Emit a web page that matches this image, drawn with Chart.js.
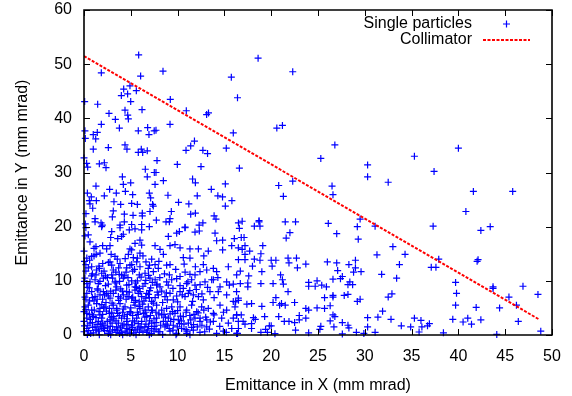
<!DOCTYPE html>
<html><head><meta charset="utf-8">
<script src="https://cdn.jsdelivr.net/npm/chart.js@4.4.1/dist/chart.umd.min.js"></script>
<style>html,body{margin:0;padding:0;background:#fff}#wrap{width:572px;height:396px}</style>
</head><body><div id="wrap"><canvas id="c" width="572" height="396"></canvas></div>
<script>
const xTicks = [0,5,10,15,20,25,30,35,40,45,50];
const yTicks = [0,10,20,30,40,50,60];
const seriesLabels = ['Single particles','Collimator'];
const collimatorX = [0, 48.6];
const collimatorY = [51.5, 2.9];

// upper region (y > 20)
const particlesHigh = [
[5.84,51.7],[1.85,48.4],[6.05,47.8],[8.44,48.7],[15.74,47.6],[4.24,45.4],[4.91,46.0],[5.59,45.1],[3.99,44.2],[4.66,44.5],[0.07,43.1],[1.46,42.6],[4.99,43.1],[9.22,43.5],[16.4,43.8],[2.67,40.9],[4.38,41.5],[6.2,41.6],[4.67,40.6],[10.93,41.4],[13.1,40.7],[13.3,41.0],[4.74,39.9],[3.35,39.8],[18.6,51.1],[22.3,48.6],
[1.85,38.9],[3.78,38.2],[9.19,38.9],[0.1,37.7],[0.14,36.3],[0.99,37.0],[1.25,36.2],[1.42,37.4],[5.8,37.7],[6.8,38.3],[6.94,37.0],[7.5,37.7],[7.69,37.8],[0.99,34.3],[2.6,34.6],[4.38,35.1],[4.59,34.3],[5.8,33.7],[6.12,34.3],[6.27,33.7],[6.76,34.0],[7.8,32.2],[0,32.7],[0.28,31.7],[0.39,31.0],[1.64,31.6],[2.17,31.8],[2.35,30.9],[6.55,30.6],[7.51,30.0],[7.69,30.0],[9.97,31.5],[10.9,34.1],[11.4,34.9],[11.8,35.8],[12.7,34.1],[13.2,33.5],[12.5,31.1],[15.2,34.5],[15.95,37.3],[16.6,30.8],
[4.1,29.2],[6.76,29.2],[8.48,28.5],[4.2,27.8],[4.99,28.1],[7.59,27.8],[11.6,28.8],[11.9,28.1],[15.1,27.9],[1.28,27.5],[2.74,26.9],[3.45,26.2],[4.42,26.5],[0.36,26.2],[0.78,25.5],[2.17,25.7],[5.2,25.9],[6.98,26.2],[8.97,25.8],[12.1,25.7],[13.6,26.9],[14.3,25.7],[14.8,25.5],[0.57,24.8],[1.32,24.8],[3.2,24.6],[3.92,24.1],[5.09,24.3],[5.7,24.1],[7.12,25.3],[7.33,24.1],[7.4,23.8],[10.1,24.5],[11.2,24.2],[15.8,24.8],[15.1,23.8],[0.64,24.2],[0.93,23.4],[3.13,22.9],[4.31,22.3],[5.24,22.1],[6.23,22.5],[6.23,22.0],[7.05,22.8],[9.33,22.8],[11.4,22.3],[11.9,22.5],[13.9,22.0],[14.1,21.4],[0.21,22.4],[0.14,20.5],[1.18,21.5],[1.18,20.9],[1.82,20.7],[1.96,20.3],[3.03,21.8],[3.85,20.3],[4.31,20.9],[5.09,20.4],[6.16,20.4],[7.73,21.2],[8.76,20.9],[9.19,21.5],[9.12,20.9],[12.3,20.3],[12.7,20.7],[16.5,20.7],
[20.6,38.2],[21.2,38.7],[26.8,35.1],[25.3,32.6],[30.3,31.4],[30.3,29.2],[32.5,28.2],[22.3,28.4],[20.8,27.6],[26.5,27.5],[21.3,25.6],[26.6,25.9],[16.9,21.0],[18.7,21.1],[18.7,20.9],[21.5,20.9],[22.6,20.9],[26.1,20.6],[29.5,21.4],[31.1,20.1],[18.2,20.1],[18.8,20.1],
[35.3,33.0],[40.0,34.5],[37.4,30.2],[41.6,26.5],[45.8,26.5],[40.8,22.8],[37.3,20.1],[43.4,20.0]
];

// right part (x > 16, y < 20)
const particlesRight = [
[42.4,19.3],[29.2,20.0],[10.8,19.9],[16.6,19.7],
[33.0,16.3],[34.3,14.9],[33.7,13.0],[37.9,14.0],[37.1,12.5],[37.6,12.5],[42.1,13.9],[42.0,13.6],[33.4,10.5],[39.7,9.7],[43.7,8.9],[43.7,8.6],[46.9,9.0],[48.5,7.5],[32.9,7.6],[39.8,7.7],[45.4,7.0],[46.2,5.5],[39.7,5.5],[44.4,5.0],[41.9,5.1],[32.8,2.9],[35.3,3.1],[36.0,2.7],[39.4,2.9],[41.0,3.1],[40.5,2.4],[41.4,2.0],[42.4,2.8],[46.4,2.5],[33.9,1.7],[34.9,1.5],[36.1,1.5],[36.7,1.7],[36.9,2.1],[35.8,0.55],[38.4,0.4],[44.1,0.1],[48.8,0.7],
[22.0,18.9],[21.6,17.9],[27.0,18.7],[29.3,17.7],[16.8,18.0],[17.1,18.0],[17.2,16.5],[19.1,16.5],[16.9,15.8],[17.7,15.5],[18.9,15.0],[17.2,14.9],[16.5,13.9],[17.2,13.9],[18.2,14.0],[18.8,13.8],[20.0,13.8],[20.5,13.8],[21.8,14.2],[21.9,13.3],[22.7,14.2],[20.1,12.7],[18.0,12.7],[22.8,12.4],[23.7,13.1],[26.0,13.5],[27.0,13.3],[28.3,13.0],[29.0,13.8],[29.0,12.4],[29.6,11.7],[31.3,14.8],[31.8,11.2],[27.1,11.9],[28.8,11.6],[19.0,11.7],[16.7,11.8],[17.6,10.9],[21.0,11.1],[21.2,10.2],[21.3,9.4],[16.7,9.5],[17.5,9.6],[17.5,8.9],[18.9,9.5],[20.2,9.5],[21.8,8.0],[24.0,9.7],[24.0,9.0],[24.7,9.0],[24.9,10.0],[25.4,9.2],[25.9,8.9],[26.6,10.3],[27.4,10.4],[27.6,10.8],[28.2,9.3],[28.4,9.8],[28.7,9.3],[16.3,8.0],[16.5,6.4],[16.2,6.1],[17.4,5.7],[17.9,5.8],[19.0,5.3],[20.5,6.9],[20.2,6.0],[20.9,5.5],[21.1,5.8],[21.5,5.5],[22.5,6.0],[25.7,6.9],[26.6,7.3],[26.6,7.0],[27.8,7.3],[28.2,7.5],[29.2,6.2],[29.5,6.6],[32.5,7.0],[23.7,4.9],[24.0,4.6],[24.9,5.0],[25.7,4.9],[26.3,5.4],[26.6,3.7],[26.8,3.4],[16.3,3.7],[16.8,3.7],[18.1,3.2],[18.3,2.9],[19.3,3.4],[20.8,3.4],[21.4,2.5],[21.9,2.5],[22.5,2.3],[23.0,2.8],[23.0,3.6],[23.7,3.1],[26.3,2.6],[27.6,2.3],[28.2,1.8],[28.3,1.3],[26.7,1.5],[25.3,1.6],[25.2,1.05],[17.0,2.5],[17.2,2.0],[17.9,2.1],[16.5,1.2],[17.9,1.2],[18.9,0.5],[19.4,1.05],[19.6,0.5],[19.8,1.7],[20.0,1.7],[20.4,0.25],[22.6,0.9],[24.0,0.4],[27.6,0.2],[29.1,0.5],[30.3,1.5],[30.3,3.2],[31.1,0.5],[31.4,3.3],[31.9,4.4],[16.4,0.3],[29.9,0.3]
];

// dense core (x < 17, y < 20)
const particlesCore = [
[0.05,13.6],[0.05,9.9],[0,4.3],[0.05,1.7],
[0.2,19.8],[0.46,18.5],[0.1,18.3],[1.89,20.0],[2.96,19.1],[3.85,19.8],[4.02,18.2],[4.84,19.4],[5.45,19.6],[6.16,19.4],[6.98,20.0],[9.01,18.2],[9.9,18.8],[10.19,19.1],[10.79,19.8],[11.86,19.0],[12.32,19.2],[14.0,18.8],[14.81,17.5],[16.06,17.8],
[0.64,17.2],[1.07,16.0],[1.28,16.3],[1.99,16.5],[2.78,16.5],[2.85,18.0],[3.6,17.8],[4.2,18.6],[4.91,15.9],[5.45,16.9],[5.98,17.5],[6.16,16.6],[7.59,16.5],[8.12,15.8],[9.19,16.5],[9.72,16.7],[10.26,16.1],[11.32,15.9],[12.22,15.9],[13.28,15.5],[14.17,17.4],[14.81,15.7],[15.78,16.5],[16.49,16.1],
[0,15.5],[0.3,14.2],[0.82,14.5],[1.07,14.6],[1.71,15.1],[2.42,15.9],[2.78,13.5],[3.31,14.5],[3.56,14.0],[4.74,14.9],[5.09,15.7],[5.27,14.3],[5.7,14.2],[5.98,15.1],[6.62,13.5],[7.23,14.0],[7.59,13.0],[8.48,14.9],[10.61,14.3],[11.32,14.2],[12.75,13.0],[13.82,12.3],[15.42,12.6],
[0.2,13.0],[0.46,12.4],[0.82,12.6],[1.35,12.0],[1.64,12.3],[1.89,11.4],[2.6,13.4],[2.96,12.9],[3.13,12.0],[3.85,13.2],[4.02,11.1],[4.56,12.4],[4.91,12.9],[5.63,13.5],[5.98,12.6],[6.52,11.4],[7.41,11.7],[7.94,12.3],[8.83,12.9],[9.19,13.0],[9.12,11.1],[10.26,10.8],[11.32,11.2],[11.86,11.1],[12.39,11.7],[13.11,12.0],[13.82,10.2],[14.17,11.7],[16.31,11.1],[15.53,9.2],
[0.1,10.5],[0.3,9.5],[0.64,9.8],[1.18,10.2],[1.53,9.5],[2.07,10.5],[2.6,9.4],[2.96,11.1],[3.31,9.8],[3.49,8.9],[4.2,10.5],[4.56,9.2],[5.09,10.0],[5.45,8.9],[5.91,8.6],[6.52,9.5],[7.05,10.5],[7.76,9.2],[8.12,8.9],[8.83,9.8],[9.37,10.2],[10.26,9.1],[10.61,8.6],[10.97,9.5],[11.5,10.2],[11.86,9.2],[12.93,9.8],[13.64,10.2],[14.53,8.9],[15.24,9.8],[15.95,9.4],
[0.3,7.7],[0.82,8.0],[1.18,7.1],[1.71,7.4],[2.07,8.0],[2.42,7.7],[2.78,6.8],[3.13,7.7],[3.67,7.1],[4.2,7.4],[4.56,8.0],[5.09,6.8],[5.45,8.3],[5.8,7.7],[6.16,7.1],[6.7,7.7],[7.23,6.2],[7.94,7.4],[8.65,7.1],[9.19,7.7],[9.54,6.5],[10.26,8.0],[10.79,7.1],[11.15,7.7],[11.68,7.4],[12.22,7.1],[12.75,6.5],[13.46,8.0],[14.35,8.0],[15.24,7.4],[15.95,6.2],[16.49,6.8],
[0.1,5.2],[0.46,5.5],[0.82,4.6],[1.35,5.8],[1.71,4.9],[2.24,5.2],[2.71,4.0],[3.13,5.5],[3.49,4.6],[3.85,5.8],[4.38,5.2],[4.91,4.3],[5.45,5.5],[5.98,4.9],[6.34,4.0],[6.87,5.2],[7.23,4.6],[7.76,5.5],[8.3,3.7],[8.83,4.9],[9.37,5.2],[9.72,4.0],[10.26,5.2],[10.97,4.6],[11.5,5.5],[12.04,4.3],[12.57,5.2],[13.28,4.9],[13.82,4.0],[14.53,5.5],[15.24,4.6],[16.13,5.2],[16.31,3.7],
[0,2.5],[0.3,3.1],[0.64,2.2],[1.0,3.4],[1.53,2.5],[1.89,3.1],[2.24,1.8],[2.78,2.8],[3.13,3.4],[3.67,2.2],[4.02,3.1],[4.56,2.5],[5.09,1.8],[5.63,3.1],[6.16,2.5],[6.7,3.4],[7.23,2.2],[7.76,3.1],[8.48,2.5],[9.01,3.1],[9.54,1.8],[10.08,2.8],[10.61,3.4],[11.15,2.2],[11.86,3.1],[12.39,2.5],[13.11,2.8],[13.82,2.5],[14.71,3.1],[15.42,2.2],[15.95,3.1],[16.49,2.5],
[0,0.6],[0.3,1.2],[0.71,0.3],[1.18,1.5],[1.53,0.7],[2.07,1.2],[2.6,0.3],[3.06,0.9],[3.49,1.5],[4.02,0.5],[4.56,1.2],[4.91,0.3],[5.45,0.9],[5.98,1.5],[6.7,0.5],[7.23,1.2],[7.94,0.6],[8.65,1.5],[9.19,0.7],[9.9,0.3],[10.43,1.2],[10.97,0.3],[11.68,0.9],[12.39,0.5],[13.11,1.5],[14.17,0.3],[14.89,0.7],[15.78,1.2],[16.31,0.3],
[0.57,8.7],[1.42,8.5],[2.35,6.0],[2.96,4.2],[3.77,3.6],[4.63,3.8],[5.34,6.0],[6.41,6.3],[7.12,8.7],[7.69,4.2],[8.4,6.0],[0.93,1.4],[1.78,2.0],[2.49,2.5],[3.42,0.5],[4.27,2.0],[5.2,2.6],[5.91,0.5],[6.62,2.0],[7.48,0.7],[8.19,1.8],[0.2,6.6],[1.07,6.3],[1.99,6.6],[2.85,8.1],[3.92,8.5],[4.84,7.9],[5.7,10.0],[6.27,5.7],[6.98,6.9],[7.83,7.9],[8.55,3.8],[9.26,2.5],[9.97,1.5],[10.68,2.0],[11.4,2.8],[12.11,1.5],[1.28,11.1],[2.14,11.8],[3.06,10.5],[3.77,11.2],[4.49,11.6],[5.2,11.8],[5.91,11.1],[6.87,12.3],[0.57,3.8],[1.28,3.2],[1.99,3.8],[2.71,4.9],[3.42,2.6],[4.13,4.2],[4.99,5.0],[5.7,4.2],[6.52,4.6],[7.48,3.0],[8.76,2.0],[9.47,4.3],[10.9,4.2],[11.75,3.8],
[0.36,0.1],[1.64,0.05],[2.85,0.05],[4.13,0.05],[5.56,0.05],[6.98,0.05],[8.4,0.1],[9.83,0.05],[11.32,0.05],
[0.4,8.8],[0.9,6.9],[1.5,8.3],[1.9,5.6],[2.3,9.1],[2.6,7.2],[3.0,5.9],[3.4,9.6],[3.7,6.4],[4.1,8.1],[4.5,6.6],[4.8,9.3],[5.2,7.0],[5.6,8.8],[5.9,6.1],[6.3,9.0],[6.6,6.8],[7.0,8.2],[7.4,5.9],[7.8,9.4],
[0.3,4.0],[0.7,2.9],[1.1,4.6],[1.4,1.9],[1.7,3.7],[2.0,2.2],[2.4,4.4],[2.8,1.6],[3.2,3.0],[3.5,4.9],[3.9,1.3],[4.3,3.5],[4.7,1.9],[5.0,4.1],[5.4,2.4],[5.8,3.8],[6.1,1.3],[6.5,3.3],[6.9,1.6],[7.3,4.5],[7.7,2.3],[8.0,3.9],
[0.5,0.8],[1.0,0.4],[1.6,1.1],[2.2,0.8],[2.7,0.6],[3.3,1.0],[3.8,0.3],[4.4,0.7],[4.9,1.0],[5.3,0.4],[5.7,1.1],[6.3,0.7],[6.8,0.9],[7.2,0.3],[7.7,1.1],
[0.2,11.8],[0.9,11.3],[1.6,12.7],[2.3,10.9],[3.4,11.6],[4.3,10.9],[5.4,12.1],[6.1,10.7],[6.9,11.0],[7.6,10.2],
[8.7,3.3],[9.1,1.2],[9.6,2.9],[10.0,4.5],[10.4,2.6],[10.9,1.0],[11.3,3.6],[11.7,1.9],[12.2,4.1],[12.6,1.8],[13.0,3.3],[13.4,1.1],[13.9,3.7],[12.9,0.6],[11.0,0.7],
[8.3,8.1],[8.9,6.5],[9.5,8.6],[10.0,6.1],[10.5,7.4],[11.1,9.8],[11.6,6.2],[12.0,8.4],
[0.6,13.8],[1.3,14.9],[2.0,13.2],[2.9,14.9],[3.7,12.4],[4.4,14.1],[5.1,13.0],[6.3,14.6],[7.0,12.9],[8.0,13.6],[8.6,11.3],[9.8,12.1],[10.7,13.1],[11.9,12.6],[12.8,14.6],
[0.8,10.9],[1.7,9.9],[2.5,10.6],[3.8,9.9],[4.7,10.6],[5.5,9.6],[6.6,10.1],[7.3,9.7],[8.1,10.6],[9.0,9.2],[9.9,10.4],[10.8,11.6],[12.4,9.3],[13.2,8.8],[14.3,10.6],
[0.1,7.0],[0.6,6.3],[1.4,6.6],[2.2,7.4],[3.4,8.3],[3.9,6.8],[4.7,7.1],[5.5,6.4],[6.0,8.0],[6.9,7.5],[7.6,6.9],[8.8,7.8],[9.9,7.2],[11.3,8.2],[12.6,7.6],[13.9,6.9],
[0.2,4.7],[0.9,3.7],[1.6,4.3],[2.1,5.0],[2.9,3.3],[3.6,4.0],[4.2,4.8],[4.6,3.0],[5.2,3.6],[5.9,5.3],[6.6,4.2],[7.1,3.6],[8.3,4.6],[9.2,3.9],[10.3,3.5],[12.8,4.6],[13.5,2.4],[14.9,4.2],
[0.4,1.8],[0.9,2.3],[1.3,0.9],[1.9,1.5],[2.5,1.3],[3.0,2.2],[3.6,0.9],[4.1,1.7],[4.6,0.4],[5.2,1.4],[5.8,2.1],[6.5,1.5],[7.0,2.6],[7.5,1.6],[8.1,0.6],[8.9,1.8],[9.5,0.9],[10.2,2.1],[11.5,1.4],[12.4,3.1],[14.5,1.6],[15.2,0.5]
];

const toXY = arr => arr.map(p => ({x: p[0], y: p[1]}));
const particleData = toXY(particlesHigh.concat(particlesRight, particlesCore));
const collimatorData = collimatorX.map((x, i) => ({x, y: collimatorY[i]}));

const FONT = "'Liberation Sans', Arial, Helvetica, sans-serif";
const BLUE = '#0000ff', RED = '#ff0000';

function drawFrame(chart) {
  const ctx = chart.ctx;
  const a = chart.chartArea;
  const xs = chart.scales.x, ys = chart.scales.y;
  ctx.save();
  ctx.setLineDash([]);
  ctx.globalAlpha = 1;
  ctx.strokeStyle = '#000000';
  ctx.lineWidth = 1;
  const tl = 6;
  ctx.beginPath();
  xTicks.forEach(v => {
    const px = Math.round(xs.getPixelForValue(v)) + 0.5;
    ctx.moveTo(px, a.bottom); ctx.lineTo(px, a.bottom - tl);
    ctx.moveTo(px, a.top); ctx.lineTo(px, a.top + tl);
  });
  yTicks.forEach(v => {
    const py = Math.round(ys.getPixelForValue(v)) + 0.5;
    ctx.moveTo(a.left, py); ctx.lineTo(a.left + tl, py);
    ctx.moveTo(a.right, py); ctx.lineTo(a.right - tl, py);
  });
  ctx.stroke();
  ctx.lineWidth = 1.6;
  ctx.beginPath();
  ctx.rect(a.left, a.top, a.right - a.left, a.bottom - a.top);
  ctx.stroke();
  ctx.restore();
}

const boxPlugin = {
  id: 'gnuBox',
  afterDraw(chart) { drawFrame(chart); }
};

const legendPlugin = {
  id: 'gpLegend',
  afterDatasetsDraw(chart) {
    const {ctx} = chart;
    const ds = chart.data.datasets;
    ctx.save();
    ctx.font = '16px ' + FONT;
    ctx.fillStyle = '#000';
    ctx.textAlign = 'right';
    ctx.textBaseline = 'middle';
    const textRight = 472, sx0 = 483, sx1 = 530;
    const rows = [24, 40];
    ctx.fillText(ds[0].label, textRight, rows[0]);
    const cx = (sx0 + sx1) / 2, r = 3.5;
    ctx.strokeStyle = BLUE; ctx.lineWidth = 1.2;
    ctx.beginPath();
    ctx.moveTo(cx - r, rows[0]); ctx.lineTo(cx + r, rows[0]);
    ctx.moveTo(cx, rows[0] - r); ctx.lineTo(cx, rows[0] + r);
    ctx.stroke();
    ctx.fillText(ds[1].label, textRight, rows[1]);
    ctx.strokeStyle = RED; ctx.lineWidth = 2;
    ctx.setLineDash([3, 1.5]);
    ctx.beginPath(); ctx.moveTo(sx0, rows[1]); ctx.lineTo(sx1, rows[1]); ctx.stroke();
    ctx.restore();
  }
};

new Chart(document.getElementById('c'), {
  type: 'scatter',
  data: {
    datasets: [
      {
        label: seriesLabels[0],
        data: particleData,
        pointStyle: 'cross',
        pointRadius: 3.5,
        pointHoverRadius: 3.5,
        borderColor: BLUE,
        backgroundColor: BLUE,
        pointBorderWidth: 1.2,
        borderWidth: 1.2,
        clip: false,
        order: 2
      },
      {
        label: seriesLabels[1],
        data: collimatorData,
        showLine: true,
        borderColor: RED,
        backgroundColor: RED,
        borderWidth: 2,
        borderDash: [3, 1.5],
        pointRadius: 0,
        pointHoverRadius: 0,
        order: 1
      }
    ]
  },
  options: {
    responsive: false,
    animation: false,
    events: [],
    layout: {padding: {left: 0, top: 10, right: 20, bottom: 0}},
    plugins: {legend: {display: false}, tooltip: {enabled: false}},
    scales: {
      x: {
        type: 'linear', min: 0, max: 50,
        afterFit: s => { s.height = 61; s.paddingLeft = 0; s.paddingRight = 0; },
        afterBuildTicks: s => { s.ticks = xTicks.map(v => ({value: v})); },
        ticks: {font: {family: FONT, size: 16}, color: '#000', padding: 12, maxRotation: 0},
        grid: {display: false, drawTicks: false},
        border: {display: false},
        title: {display: true, text: 'Emittance in X (mm mrad)', color: '#000', font: {family: FONT, size: 16}, padding: {top: 0, bottom: 1}}
      },
      y: {
        type: 'linear', min: 0, max: 60,
        afterFit: s => { s.width = 84; s.paddingTop = 0; s.paddingBottom = 0; },
        afterBuildTicks: s => { s.ticks = yTicks.map(v => ({value: v})); },
        ticks: {font: {family: FONT, size: 16}, color: '#000', padding: 12},
        grid: {display: false, drawTicks: false},
        border: {display: false},
        title: {display: true, text: 'Emittance in Y (mm mrad)', color: '#000', font: {family: FONT, size: 16}, padding: {top: 13, bottom: 0}}
      }
    }
  },
  plugins: [boxPlugin, legendPlugin]
});
</script>
</body></html>
